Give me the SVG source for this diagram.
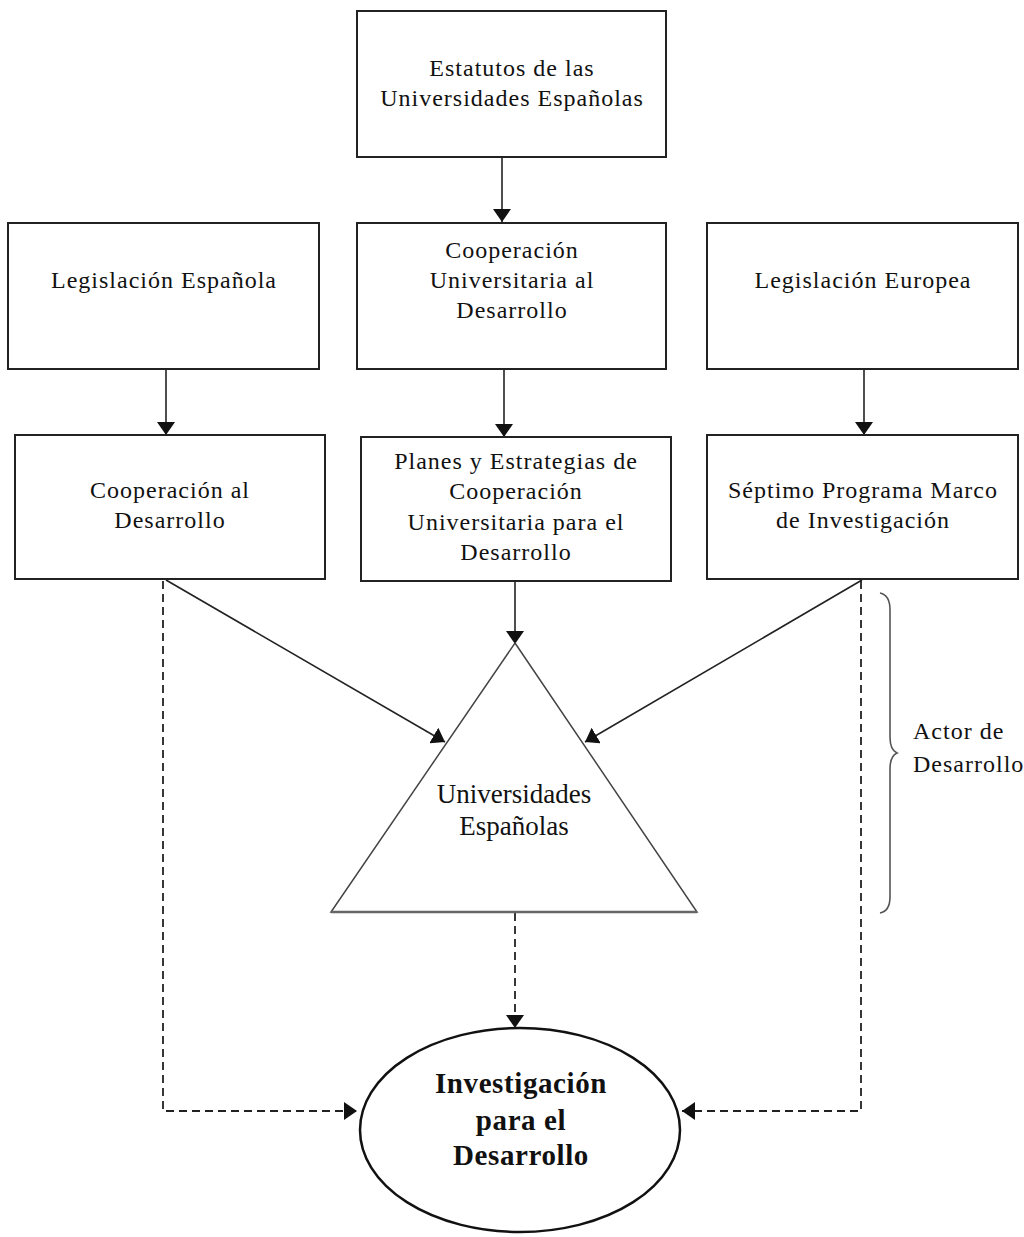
<svg xmlns="http://www.w3.org/2000/svg" width="1024" height="1237" viewBox="0 0 1024 1237">
<defs>
<style>
.box{fill:#fff;stroke:#222;stroke-width:2}
.t{font-family:"Liberation Serif","Times New Roman",serif;font-size:24px;letter-spacing:1px;fill:#111;text-anchor:middle}
.tl{font-family:"Liberation Serif","Times New Roman",serif;font-size:24px;letter-spacing:1px;fill:#111}
.tri{font-family:"Liberation Serif","Times New Roman",serif;font-size:27px;fill:#111;text-anchor:middle}
.b{font-family:"Liberation Serif","Times New Roman",serif;font-size:29px;font-weight:bold;letter-spacing:0.6px;fill:#111;text-anchor:middle}
.ln{fill:none;stroke:#222;stroke-width:1.6}
.dash{fill:none;stroke:#222;stroke-width:1.8;stroke-dasharray:8 5}
</style>
<marker id="ah" viewBox="0 0 13 18" refX="13" refY="9" markerWidth="13" markerHeight="18" markerUnits="userSpaceOnUse" orient="auto">
<path d="M0,0 L13,9 L0,18 Z" fill="#111"/>
</marker>
</defs>
<rect width="1024" height="1237" fill="#fff"/>

<g id="connectors">
<line class="ln" x1="502" y1="157" x2="502" y2="222" marker-end="url(#ah)"/>
<line class="ln" x1="166" y1="369" x2="166" y2="435" marker-end="url(#ah)"/>
<line class="ln" x1="504" y1="369" x2="504" y2="437" marker-end="url(#ah)"/>
<line class="ln" x1="864" y1="369" x2="864" y2="435" marker-end="url(#ah)"/>
<line class="ln" x1="515" y1="581" x2="515" y2="644" marker-end="url(#ah)"/>
<line class="ln" x1="166" y1="580" x2="445" y2="742" marker-end="url(#ah)"/>
<line class="ln" x1="862" y1="580" x2="585" y2="742" marker-end="url(#ah)"/>
<path class="dash" d="M163,581 V1111 H357" marker-end="url(#ah)"/>
<path class="dash" d="M861,581 V1111 H682" marker-end="url(#ah)"/>
<path class="dash" d="M515,913 V1028" marker-end="url(#ah)"/>
</g>

<g id="n-estatutos">
<rect class="box" x="357" y="11" width="309" height="146"/>
<text class="t" x="512" y="76">Estatutos de las</text>
<text class="t" x="512" y="106">Universidades Españolas</text>
</g>

<g id="n-leg-es">
<rect class="box" x="8" y="223" width="311" height="146"/>
<text class="t" x="164" y="288">Legislación Española</text>
</g>

<g id="n-cud">
<rect class="box" x="357" y="223" width="309" height="146"/>
<text class="t" x="512" y="258">Cooperación</text>
<text class="t" x="512" y="288">Universitaria al</text>
<text class="t" x="512" y="318">Desarrollo</text>
</g>

<g id="n-leg-eu">
<rect class="box" x="707" y="223" width="311" height="146"/>
<text class="t" x="863" y="288">Legislación Europea</text>
</g>

<g id="n-coop">
<rect class="box" x="15" y="435" width="310" height="144"/>
<text class="t" x="170" y="498">Cooperación al</text>
<text class="t" x="170" y="528">Desarrollo</text>
</g>

<g id="n-planes">
<rect class="box" x="361" y="437" width="310" height="144"/>
<text class="t" x="516" y="469">Planes y Estrategias de</text>
<text class="t" x="516" y="499">Cooperación</text>
<text class="t" x="516" y="530">Universitaria para el</text>
<text class="t" x="516" y="560">Desarrollo</text>
</g>

<g id="n-septimo">
<rect class="box" x="707" y="435" width="311" height="144"/>
<text class="t" x="863" y="498">Séptimo Programa Marco</text>
<text class="t" x="863" y="528">de Investigación</text>
</g>

<g id="n-universidades">
<path d="M515,643 L697,912 L331,912 Z" fill="#fff" stroke="#444" stroke-width="1.5" stroke-linejoin="miter"/>
<line x1="331" y1="912" x2="697" y2="912" stroke="#666" stroke-width="2.5"/>
<text class="tri" x="514" y="803">Universidades</text>
<text class="tri" x="514" y="835">Españolas</text>
</g>

<g id="n-investigacion">
<ellipse cx="520" cy="1130" rx="160" ry="102" fill="#fff" stroke="#111" stroke-width="2.5"/>
<text class="b" x="521" y="1093">Investigación</text>
<text class="b" x="521" y="1130">para el</text>
<text class="b" x="521" y="1165">Desarrollo</text>
</g>

<g id="n-actor">
<path d="M880,593 Q890,595 890,610 V737 Q890,750 897,753 Q890,756 890,769 V897 Q890,911 880,913" fill="none" stroke="#555" stroke-width="1.6"/>
<text class="tl" x="913" y="739">Actor de</text>
<text class="tl" x="913" y="772">Desarrollo</text>
</g>
</svg>
